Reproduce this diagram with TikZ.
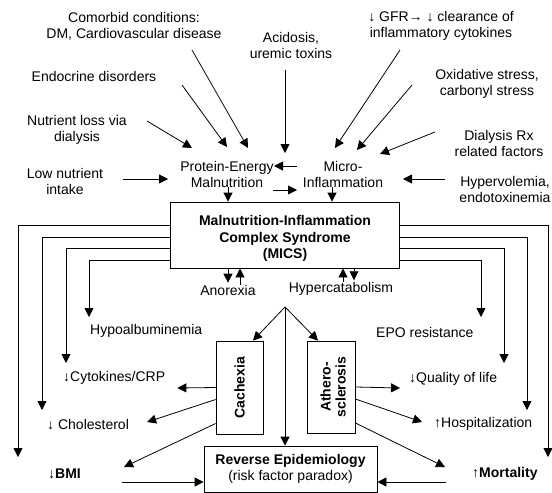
\documentclass[tikz,border=0pt]{standalone}
\usepackage{fontspec}
\setmainfont{Liberation Sans}
\usetikzlibrary{arrows.meta,calc}
\begin{document}
\begin{tikzpicture}[x=1pt,y=-1pt,
  lbl/.style={inner sep=0pt, align=center, font=\fontsize{14}{16}\selectfont},
  lblL/.style={inner sep=0pt, anchor=west, font=\fontsize{14}{16}\selectfont},
  arr/.style={line width=0.8pt, -{Triangle[length=9pt,width=9pt]}},
  boxed/.style={draw, line width=0.8pt, inner sep=0pt, align=center, font=\fontsize{14}{16}\selectfont\bfseries},
  btxt/.style={inner sep=0pt, align=center, font=\fontsize{14}{16.5}\selectfont\bfseries},
  rottxt/.style={rotate=90, inner sep=0pt, align=center, font=\fontsize{14}{15}\selectfont\bfseries}
]
\useasboundingbox (0,0) rectangle (552,493);

% top inputs
\node[lbl] (comorbid) at (134,26) {Comorbid conditions:\\DM, Cardiovascular disease};
\node[lbl] (acid) at (291,45) {Acidosis,\\uremic toxins};
\node[lbl] (gfr) at (441,26) {↓ GFR→ ↓ clearance of\\inflammatory cytokines};
\node[lbl] (endo) at (94,76) {Endocrine disorders};
\node[lbl] (oxid) at (487,84) {Oxidative stress,\\carbonyl stress};
\node[lbl] (nutloss) at (77,130) {Nutrient loss via\\dialysis};
\node[lbl] (dialrx) at (499,143) {Dialysis Rx\\related factors};
\node[lbl] (lowint) at (65,181) {Low nutrient\\intake};
\node[lbl] (pem) at (227,174) {Protein-Energy\\Malnutrition};
\node[lbl] (micro) at (343,174) {Micro-\\Inflammation};
\node[lbl] (hyper) at (505,189) {Hypervolemia,\\endotoxinemia};

% central box
\node[boxed, minimum width=229pt, minimum height=66pt] (mics) at (284.5,235) {};
\node[btxt] (micstxt) at (285,238.5) {Malnutrition-Inflammation\\Complex Syndrome\\(MICS)};

\node[lbl] (anorexia) at (228,290) {Anorexia};
\node[lbl] (hypercat) at (341,289) {Hypercatabolism};

% outcome labels
\node[lblL] (hypoalb) at (90,331) {Hypoalbuminemia};
\node[lblL] (cyto) at (63,378) {↓Cytokines/CRP};
\node[lblL] (chol) at (47,425) {↓ Cholesterol};
\node[lblL] (bmi) at (48,474) {↓\textbf{BMI}};
\node[lblL] (epo) at (376,332) {EPO resistance};
\node[lblL] (qol) at (409,379) {↓Quality of life};
\node[lblL] (hosp) at (434,424) {↑Hospitalization};
\node[lblL] (mort) at (472,474) {↑\textbf{Mortality}};

% lower boxes
\node[boxed, minimum width=47pt, minimum height=93pt] (cach) at (239.5,387.5) {};
\node[rottxt] (cachtxt) at (cach.center) {Cachexia};
\node[boxed, minimum width=48pt, minimum height=92pt] (ath) at (331,387) {};
\node[rottxt] (athtxt) at ($(ath.center)+(2,0)$) {Athero-\\sclerosis};
\node[boxed, minimum width=173pt, minimum height=46pt] (rev) at (290.5,469) {Reverse Epidemiology\\\mdseries (risk factor paradox)};

% coordinates
\coordinate (split) at (285,307);
\coordinate (fl1) at (18,457);
\coordinate (fl2) at (42,410);
\coordinate (fl3) at (66,363);
\coordinate (fl4) at (89,317);
\coordinate (fr1) at (548,457);
\coordinate (fr2) at (527,410);
\coordinate (fr3) at (504,363);
\coordinate (fr4) at (481,317);

% input arrows
\draw[arr] ($(comorbid)+(58,24)$) -- ($(pem)+(21,-26)$);
\draw[arr] ($(endo)+(88,9)$) -- ($(pem)+(0,-27)$);
\draw[arr] ($(nutloss)+(70,-9)$) -- ($(pem)+(-35,-26)$);
\draw[arr] ($(lowint)+(58,-2)$) -- ($(pem)+(-59,5)$);
\draw[arr] ($(acid)+(-6,25)$) -- ($(pem)+(58,-21)$);
\draw[arr] ($(micro)+(-46,-8)$) -- ($(pem)+(47,-8)$);
\draw[arr] ($(pem)+(46,16)$) -- ($(micro)+(-46,16)$);
\draw[arr] ($(gfr)+(-41,24)$) -- ($(micro)+(-8,-26)$);
\draw[arr] ($(oxid)+(-75,1)$) -- ($(micro)+(14,-24)$);
\draw[arr] ($(dialrx)+(-64,-11)$) -- ($(micro)+(37,-20)$);
\draw[arr] ($(hyper)+(-60,-10)$) -- ($(micro)+(60,5)$);

% into MICS
\coordinate (pemdn) at ($(pem.south)+(1,0)$);
\draw[arr] (pemdn) -- (pemdn |- mics.north);
\coordinate (mcdn) at ($(micro.south)+(-11,0)$);
\draw[arr] (mcdn) -- (mcdn |- mics.north);

% anorexia / hypercatabolism
\draw[arr, shorten >=2pt] (anorexia.north |- mics.south) -- (anorexia.north);
\coordinate (anup) at ($(anorexia.north)+(12,0)$);
\draw[arr] (anup) -- (anup |- mics.south);
\coordinate (hcup) at ($(hypercat.north)+(2,0)$);
\draw[arr] (hcup) -- (hcup |- mics.south);
\coordinate (hcdn) at ($(hypercat.north)+(13,0)$);
\draw[arr, shorten >=2pt] (hcdn |- mics.south) -- (hcdn);

% feedback loops
\draw[arr] ([yshift=10pt]mics.west) -| (fl1);
\draw[arr] ([yshift=-2pt]mics.west) -| (fl2);
\draw[arr] ([yshift=-13pt]mics.west) -| (fl3);
\draw[arr] ([yshift=-25pt]mics.west) -| (fl4);
\draw[arr] ([yshift=10pt]mics.east) -| (fr1);
\draw[arr] ([yshift=-2pt]mics.east) -| (fr2);
\draw[arr] ([yshift=-13pt]mics.east) -| (fr3);
\draw[arr] ([yshift=-25pt]mics.east) -| (fr4);

% split
\draw[arr] (split) -- ([xshift=13.5pt]cach.north);
\draw[arr] (split) -- ([xshift=-13pt]ath.north);
\draw[arr] (split) -- (split |- rev.north);

% cachexia outputs
\draw[arr] (cach.west) -- ($(cyto.east)+(12,10)$);
\draw[arr] ([yshift=-12pt]cach.west) -- ($(chol.east)+(18,-3)$);
\draw[arr] ([yshift=-36pt]cach.west) -- ($(bmi.east)+(43,-7)$);

% athero outputs
\draw[arr] (ath.east) -- ($(qol.west)+(-9,9)$);
\draw[arr] ([yshift=-12pt]ath.east) -- ($(hosp.west)+(-12,-2)$);
\draw[arr] ([yshift=-36pt]ath.east) -- ($(mort.west)+(-27,-7)$);

% into reverse epidemiology
\draw[arr] ($(bmi.east)+(41,8)$) -- ($(rev.west)+(0,13)$);
\draw[arr] ($(mort.west)+(-26,8)$) -- ($(rev.east)+(0,13)$);
\end{tikzpicture}
\end{document}
